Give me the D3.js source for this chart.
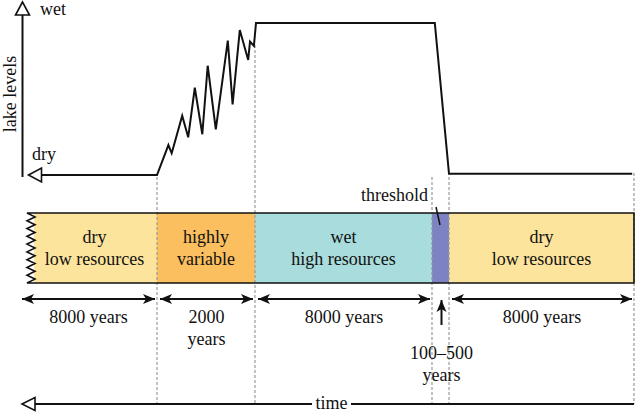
<!DOCTYPE html>
<html>
<head>
<meta charset="utf-8">
<script src="https://cdn.jsdelivr.net/npm/d3@7"></script>
<style>
  html, body { margin: 0; padding: 0; background: #fff; }
  svg { display: block; }
  text { font-family: "Liberation Serif", "DejaVu Serif", serif; font-size: 18px; fill: #111; }
</style>
</head>
<body>
<svg id="chart" width="636" height="415"></svg>
<script>
// ---------- data ----------
// schematic time positions (0..100) of phase boundaries
const phaseEdges = [0, 20.5, 36.83, 66.33, 69.17, 100];
const phaseNames = ["dry\nlow resources", "highly\nvariable", "wet\nhigh resources", "", "dry\nlow resources"];
const phaseKeys = ["dry", "variable", "wet", "threshold", "dry"];
const durationLabels = ["8000 years", "2000\nyears", "8000 years", "100–500\nyears", "8000 years"];

// lake level curve (schematic time, level 0 = dry … 1 = wet)
const lakeTime  = [1.3, 20.5, 22.4, 22.95, 24.7, 25.7, 26.8, 28.05, 28.95, 30.3, 32.3, 33.1, 34.3, 35.7, 36.0, 36.65, 37.0, 66.8, 69.17, 99.7];
const lakeLevel = [0, 0, 0.197, 0.143, 0.39, 0.248, 0.574, 0.268, 0.719, 0.30, 0.884, 0.465, 0.954, 0.757, 0.877, 0.849, 1.0, 1.0, 0.008, 0.008];

const axisLabels = { wet: "wet", dry: "dry", y: "lake levels", x: "time", threshold: "threshold" };

// ---------- drawing ----------
const svg = d3.select("#chart");
const x = d3.scaleLinear().domain([0, 100]).range([34, 634]);
const y = d3.scaleLinear().domain([0, 1]).range([175, 23]);
const color = d3.scaleOrdinal()
  .domain(["dry", "variable", "wet", "threshold"])
  .range(["#fde49c", "#fbbf5f", "#a9dcdc", "#7c82c2"]);

const bandTop = 213, bandBot = 283;

// marker
const defs = svg.append("defs");
defs.append("marker")
  .attr("id", "ah").attr("viewBox", "0 -6 12 12")
  .attr("refX", 12).attr("refY", 0)
  .attr("markerUnits", "userSpaceOnUse")
  .attr("markerWidth", 12).attr("markerHeight", 12)
  .attr("orient", "auto-start-reverse")
  .append("path").attr("d", "M0,-5 L12,0 L0,5 L3,0 Z").attr("fill", "#111");

// band fills
const phases = phaseKeys.map((k, i) => ({ key: k, name: phaseNames[i], x0: phaseEdges[i], x1: phaseEdges[i + 1], dur: durationLabels[i], i }));
svg.append("g").selectAll("rect").data(phases).join("rect")
  .attr("x", d => x(d.x0)).attr("width", d => x(d.x1) - x(d.x0))
  .attr("y", bandTop).attr("height", bandBot - bandTop)
  .attr("fill", d => color(d.key));

// dashed boundaries
const dashTop = [null, 177, 45, 177, 177, 173];
svg.append("g").selectAll("line").data(phaseEdges.slice(1)).join("line")
  .attr("x1", d => x(d)).attr("x2", d => x(d))
  .attr("y1", (d, i) => dashTop[i + 1]).attr("y2", 404)
  .attr("stroke", "#9a9a9a").attr("stroke-width", 1.2).attr("stroke-dasharray", "3,2");

// band outline with jagged left edge
(function () {
  const n = 18, step = (bandBot - bandTop) / n;
  const pts = [[x(100), bandTop], [27, bandTop]];
  for (let k = 1; k <= n; k++) pts.push([k % 2 ? 35 : 27, bandTop + k * step]);
  pts.push([x(100), bandBot]);
  svg.append("path").attr("d", d3.line()(pts) + "Z")
    .attr("fill", "none").attr("stroke", "#111").attr("stroke-width", 1.6).attr("stroke-linejoin", "miter");
})();

// band labels
const bandText = svg.append("g").selectAll("text").data(phases.filter(d => d.name)).join("text")
  .attr("text-anchor", "middle")
  .attr("x", d => (x(d.x0) + x(d.x1)) / 2 + (d.i === 0 ? -1 : 0));
bandText.selectAll("tspan").data(d => d.name.split("\n")).join("tspan")
  .attr("x", function () { return d3.select(this.parentNode).attr("x"); })
  .attr("y", (d, j) => 243 + j * 22).text(d => d);

// threshold label + leader
svg.append("text").attr("x", 428).attr("y", 201).attr("text-anchor", "end").text(axisLabels.threshold);
svg.append("line").attr("x1", 436).attr("y1", 207).attr("x2", 440).attr("y2", 225)
  .attr("stroke", "#111").attr("stroke-width", 1.5);

// lake level line
svg.append("path")
  .attr("d", d3.line().x((d, i) => x(lakeTime[i])).y(d => y(d))(lakeLevel))
  .attr("fill", "none").attr("stroke", "#111").attr("stroke-width", 2).attr("stroke-linejoin", "miter");

// axes
svg.append("line").attr("x1", 22.5).attr("x2", 22.5).attr("y1", 15).attr("y2", 177)
  .attr("stroke", "#111").attr("stroke-width", 2);
svg.append("path").attr("d", "M22.5,2 L15.5,15 L29.5,15 Z")
  .attr("fill", "#fff").attr("stroke", "#111").attr("stroke-width", 1.6);
svg.append("path").attr("d", "M28.5,175 L41.5,168 L41.5,182 Z")
  .attr("fill", "#fff").attr("stroke", "#111").attr("stroke-width", 1.6);
svg.append("text").attr("x", 40).attr("y", 15).text(axisLabels.wet);
svg.append("text").attr("x", 32).attr("y", 160).text(axisLabels.dry);
svg.append("text").attr("transform", "translate(16,94) rotate(-90)").attr("text-anchor", "middle").text(axisLabels.y);

// duration arrows and labels
const durG = svg.append("g");
phases.forEach(d => {
  const cx = (x(d.x0) + x(d.x1)) / 2;
  const lines = d.dur.split("\n");
  if (d.key === "threshold") {
    durG.append("line").attr("x1", cx + 1).attr("x2", cx + 1).attr("y1", 325).attr("y2", 300)
      .attr("stroke", "#111").attr("stroke-width", 2).attr("marker-end", "url(#ah)");
    const t = durG.append("text").attr("text-anchor", "middle");
    lines.forEach((s, j) => t.append("tspan").attr("x", cx + 1).attr("y", 359 + j * 22).text(s));
  } else {
    const a = d.i === 0 ? 22 : x(d.x0) + 3;
    const b = x(d.x1) - 2;
    durG.append("line").attr("x1", a).attr("x2", b).attr("y1", 299).attr("y2", 299)
      .attr("stroke", "#111").attr("stroke-width", 2)
      .attr("marker-start", "url(#ah)").attr("marker-end", "url(#ah)");
    const t = durG.append("text").attr("text-anchor", "middle");
    lines.forEach((s, j) => t.append("tspan").attr("x", (a + b) / 2).attr("y", 323 + j * 22).text(s));
  }
});

// time axis
svg.append("line").attr("x1", 35).attr("x2", 312).attr("y1", 404).attr("y2", 404).attr("stroke", "#111").attr("stroke-width", 2);
svg.append("line").attr("x1", 351).attr("x2", 634).attr("y1", 404).attr("y2", 404).attr("stroke", "#111").attr("stroke-width", 2);
svg.append("path").attr("d", "M22,404 L35,397.5 L35,410.5 Z")
  .attr("fill", "#fff").attr("stroke", "#111").attr("stroke-width", 1.6);
svg.append("text").attr("x", 331.5).attr("y", 409).attr("text-anchor", "middle").text(axisLabels.x);
</script>
</body>
</html>
